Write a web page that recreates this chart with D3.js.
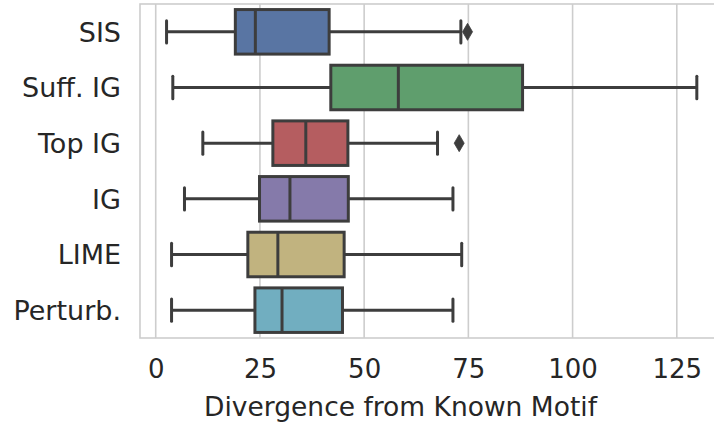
<!DOCTYPE html>
<html><head><meta charset="utf-8">
<script src="https://cdn.jsdelivr.net/npm/d3@7"></script>
<style>body{margin:0;background:#fff}svg{display:block}text{font-family:"DejaVu Sans",sans-serif;fill:#262626}</style>
</head><body><svg id="c" width="714" height="425"></svg>
<script>
const categories = ["SIS","Suff. IG","Top IG","IG","LIME","Perturb."];
const whiskerLow  = [2.6, 4.1, 11.3, 6.9, 3.8, 3.8];
const q1          = [19.1, 42.0, 28.1, 24.9, 22.1, 23.8];
const median      = [23.9, 58.2, 36.0, 32.2, 29.3, 30.3];
const q3          = [41.6, 88.0, 46.1, 46.2, 45.2, 44.8];
const whiskerHigh = [73.2, 129.8, 67.6, 71.3, 73.4, 71.3];
const outliers    = [[74.8], [], [72.8], [], [], []];
const colors      = ["#5975a3","#5f9e6d","#b55d60","#857aaa","#c1b37f","#71aec0"];
const xTicks      = [0, 25, 50, 75, 100, 125];
const xLabel      = "Divergence from Known Motif";

(function () {
const svg = d3.select("#c");
const pL = 140, pR = 726, pT = 4, pB = 338;
const x = d3.scaleLinear().domain([-3.77, 136.8]).range([pL, pR]);
const y = d3.scaleBand().domain(categories).range([pT, pB]).paddingInner(0).paddingOuter(0);
const bw = y.bandwidth() * 0.8;
const gray = "#3d3d3d", lw = 3;

svg.append("g").selectAll("line").data(xTicks).join("line")
  .attr("x1", d => x(d)).attr("x2", d => x(d)).attr("y1", pT).attr("y2", pB)
  .attr("stroke", "#cdcdcd").attr("stroke-width", 1.6);
svg.append("rect").attr("x", pL).attr("y", pT).attr("width", pR - pL).attr("height", pB - pT)
  .attr("fill", "none").attr("stroke", "#cdcdcd").attr("stroke-width", 1.6);

const xAxis = d3.axisBottom(x).tickValues(xTicks).tickSize(0).tickPadding(0);
const gx = svg.append("g").attr("transform", `translate(0,${pB})`).call(xAxis);
gx.select(".domain").remove();
gx.selectAll("text").attr("font-size", 26).attr("dy", 0).attr("y", 40)
  .style("font-family", "DejaVu Sans").style("fill", "#262626");

const yAxis = d3.axisLeft(y).tickSize(0).tickPadding(0);
const gy = svg.append("g").attr("transform", `translate(121,0)`).call(yAxis);
gy.select(".domain").remove();
gy.selectAll("text").attr("font-size", 27).attr("x", 0).attr("dy", "0.36em")
  .style("font-family", "DejaVu Sans").style("fill", "#262626");

svg.append("text").attr("x", 400.5).attr("y", 416).attr("text-anchor", "middle")
  .attr("font-size", 26.5).text(xLabel);

const g = svg.append("g");
categories.forEach((c, i) => {
  const cy = y(c) + y.bandwidth() / 2;
  const gg = g.append("g");
  gg.append("line").attr("x1", x(whiskerLow[i])).attr("x2", x(q1[i])).attr("y1", cy).attr("y2", cy)
    .attr("stroke", gray).attr("stroke-width", lw);
  gg.append("line").attr("x1", x(q3[i])).attr("x2", x(whiskerHigh[i])).attr("y1", cy).attr("y2", cy)
    .attr("stroke", gray).attr("stroke-width", lw);
  [whiskerLow[i], whiskerHigh[i]].forEach(v => {
    gg.append("line").attr("x1", x(v)).attr("x2", x(v)).attr("y1", cy - bw / 4).attr("y2", cy + bw / 4)
      .attr("stroke", gray).attr("stroke-width", lw).attr("stroke-linecap", "round");
  });
  gg.append("rect").attr("x", x(q1[i])).attr("y", cy - bw / 2).attr("width", x(q3[i]) - x(q1[i])).attr("height", bw)
    .attr("fill", colors[i]).attr("stroke", gray).attr("stroke-width", lw);
  gg.append("line").attr("x1", x(median[i])).attr("x2", x(median[i])).attr("y1", cy - bw / 2).attr("y2", cy + bw / 2)
    .attr("stroke", gray).attr("stroke-width", lw);
  outliers[i].forEach(v => {
    const px = x(v), hw = 5, hh = 8.5;
    gg.append("path").attr("d", `M${px},${cy - hh}L${px + hw},${cy}L${px},${cy + hh}L${px - hw},${cy}Z`)
      .attr("fill", gray).attr("stroke", gray).attr("stroke-width", 0.8);
  });
});
})();
</script></body></html>
